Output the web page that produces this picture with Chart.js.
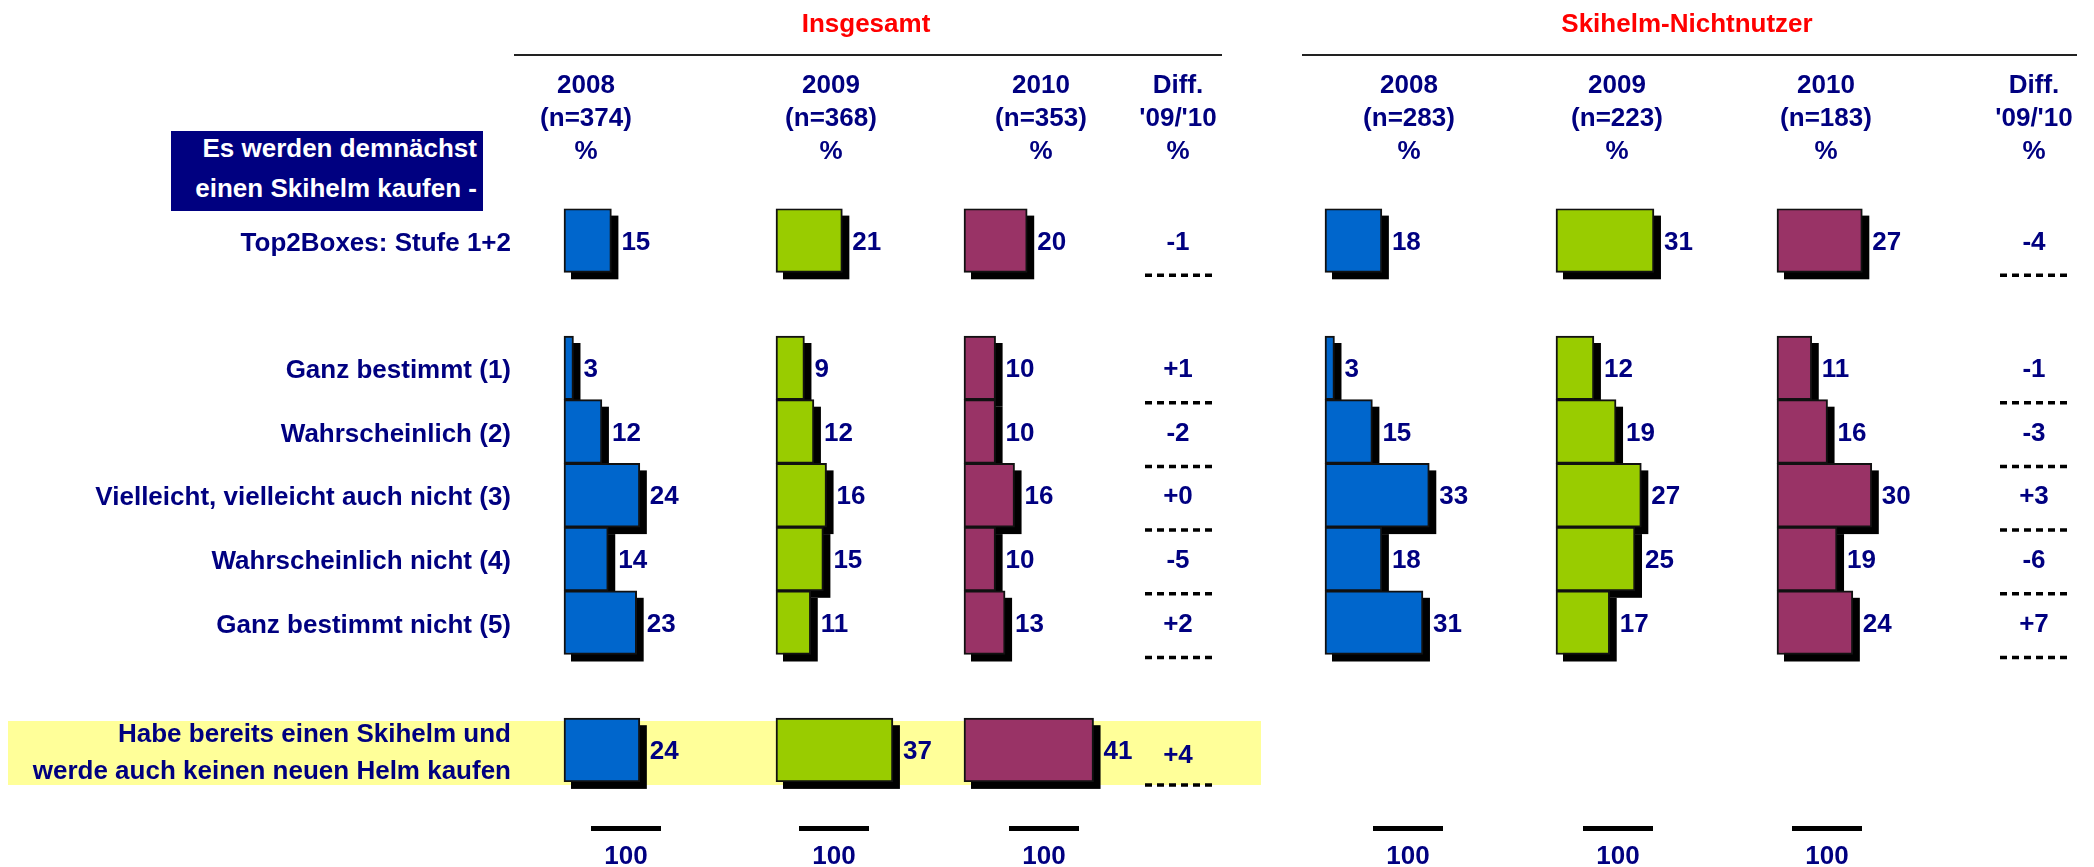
<!DOCTYPE html>
<html><head><meta charset="utf-8">
<script src="https://cdn.jsdelivr.net/npm/chart.js@4/dist/chart.umd.min.js"></script>
<style>
html,body{margin:0;padding:0;background:#fff;}
#wrap{position:relative;width:2094px;height:867px;overflow:hidden;font-family:'Liberation Sans',Arial,sans-serif;font-weight:bold;}
.t{position:absolute;transform:translate(-50%,-50%);white-space:nowrap;font-size:26px;line-height:1;color:#000080;}
canvas{position:absolute;left:0;top:0;}
</style></head><body>
<div id="wrap">
  <div id="band" style="position:absolute;left:8px;top:721px;width:1253px;height:64px;background:#FFFF99"></div>
  <canvas id="c" width="2094" height="867"></canvas>
</div>
<script>
// ---------- data ----------
const categories = ['Top2Boxes: Stufe 1+2', '', 'Ganz bestimmt (1)', 'Wahrscheinlich (2)',
  'Vielleicht, vielleicht auch nicht (3)', 'Wahrscheinlich nicht (4)', 'Ganz bestimmt nicht (5)', '',
  ['Habe bereits einen Skihelm und', 'werde auch keinen neuen Helm kaufen']];
const groupTitles = ['Insgesamt', 'Skihelm-Nichtnutzer'];
const years = ['2008', '2009', '2010'];
const nInsgesamt = [374, 368, 353];
const nNichtnutzer = [283, 223, 183];
const diffHeader = ['Diff.', "'09/'10", '%'];
const questionLines = ['Es werden demnächst', 'einen Skihelm kaufen -'];
const ins2008 = [15, null, 3, 12, 24, 14, 23, null, 24];
const ins2009 = [21, null, 9, 12, 16, 15, 11, null, 37];
const ins2010 = [20, null, 10, 10, 16, 10, 13, null, 41];
const nn2008 = [18, null, 3, 15, 33, 18, 31, null, null];
const nn2009 = [31, null, 12, 19, 27, 25, 17, null, null];
const nn2010 = [27, null, 11, 16, 30, 19, 24, null, null];
const diffIns = ['-1', null, '+1', '-2', '+0', '-5', '+2', null, '+4'];
const diffNn = ['-4', null, '-1', '-3', '+3', '-6', '+7', null, null];
const totals = [100, 100, 100, 100, 100, 100];

// ---------- layout ----------
const FONT = "bold 26px 'Liberation Sans', Arial, sans-serif";
const NAVY = '#000080';
const COLORS = ['#0066CC', '#99CC00', '#993366'];
const baseX = [564, 776, 964, 1325, 1556, 1777];
const colCenter = [586, 831, 1041, 1409, 1617, 1826];
const diffCenter = [1178, 2034];
const dotSpan = [[1145, 1213], [2000, 2070]];
const totalCenter = [626, 834, 1044, 1408, 1618, 1827];
const PX = 3.16, AREA_L = 520, AREA_R = 2094;

const wrap = document.getElementById('wrap');
function txt(s, x, y, color, extra) {
  const d = document.createElement('div');
  d.className = 't'; d.textContent = s;
  d.style.left = x + 'px'; d.style.top = y + 'px';
  if (color) d.style.color = color;
  if (extra) Object.assign(d.style, extra);
  wrap.appendChild(d);
  return d;
}
function box(x, y, w, h, bg) {
  const d = document.createElement('div');
  d.style.position = 'absolute';
  d.style.left = x + 'px'; d.style.top = y + 'px';
  d.style.width = w + 'px'; d.style.height = h + 'px';
  d.style.background = bg;
  wrap.appendChild(d);
  return d;
}
// titles and rules
txt(groupTitles[0], 866, 23, '#FF0000');
txt(groupTitles[1], 1687, 23, '#FF0000');
box(514, 54, 708, 2, '#222');
box(1302, 54, 775, 2, '#222');
// column headers
const headY = [84, 117, 150];
years.forEach((y, i) => {
  [[colCenter[i], nInsgesamt[i]], [colCenter[i + 3], nNichtnutzer[i]]].forEach(([cx, n]) => {
    txt(y, cx, headY[0]);
    txt('(n=' + n + ')', cx, headY[1]);
    txt('%', cx, headY[2]);
  });
});
diffCenter.forEach(cx => diffHeader.forEach((s, k) => txt(s, cx, headY[k])));
// question box
box(171, 131, 312, 80, '#000080');
questionLines.forEach((s, k) => {
  txt(s, 477, 148 + k * 40, '#FFFFFF', { transform: 'translate(-100%,-50%)' });
});
// totals
totals.forEach((v, i) => {
  box(totalCenter[i] - 35, 826, 70, 5, '#000');
  txt(String(v), totalCenter[i], 855);
});

// ---------- chart ----------
const series = [ins2008, ins2009, ins2010, nn2008, nn2009, nn2010];
const scales = {
  y: {
    type: 'category', position: 'left',
    grid: { display: false, drawTicks: false }, border: { display: false },
    ticks: { color: NAVY, font: { family: "'Liberation Sans', Arial, sans-serif", size: 26, weight: 'bold', lineHeight: 1.42 },
      padding: 9, autoSkip: false, labelOffset: 3 },
    afterFit: s => { s.width = AREA_L; }
  }
};
series.forEach((d, i) => {
  scales['x' + i] = { type: 'linear', display: false, bounds: 'data',
    min: -(baseX[i] - AREA_L) / PX, max: (AREA_R - baseX[i]) / PX };
});
const datasets = series.map((d, i) => ({
  data: d, xAxisID: 'x' + i, yAxisID: 'y',
  backgroundColor: COLORS[i % 3], borderColor: '#111', borderWidth: 2, borderSkipped: false,
  barPercentage: 1, categoryPercentage: 1, grouped: false
}));

const shadowPlugin = {
  id: 'shadow',
  beforeDatasetsDraw(chart) {
    const ctx = chart.ctx; ctx.save(); ctx.fillStyle = '#000';
    chart.data.datasets.forEach((ds, i) => {
      chart.getDatasetMeta(i).data.forEach((el, j) => {
        if (ds.data[j] == null) return;
        const p = el.getProps(['x', 'y', 'base', 'height'], true);
        const l = Math.min(p.x, p.base), w = Math.abs(p.x - p.base);
        ctx.fillRect(l + 7, p.y - p.height / 2 + 7, w, p.height);
      });
    });
    ctx.restore();
  }
};
const labelPlugin = {
  id: 'vlabels',
  afterDatasetsDraw(chart) {
    const ctx = chart.ctx; ctx.save();
    ctx.font = FONT; ctx.fillStyle = NAVY; ctx.textAlign = 'left'; ctx.textBaseline = 'middle';
    chart.data.datasets.forEach((ds, i) => {
      chart.getDatasetMeta(i).data.forEach((el, j) => {
        if (ds.data[j] == null) return;
        const p = el.getProps(['x', 'y'], true);
        ctx.fillText(String(ds.data[j]), p.x + 10, p.y + 2);
      });
    });
    // diff column
    const ys = chart.scales.y;
    const band = ys.getPixelForValue(1) - ys.getPixelForValue(0);
    ctx.textAlign = 'center';
    [diffIns, diffNn].forEach((arr, g) => {
      arr.forEach((v, j) => {
        if (v == null) return;
        const y = ys.getPixelForValue(j);
        ctx.fillStyle = NAVY;
        ctx.fillText(v, diffCenter[g], y + (j === 8 ? 6 : 2));
        ctx.beginPath();
        ctx.setLineDash([7, 5]); ctx.lineWidth = 3.5; ctx.strokeStyle = '#000';
        ctx.moveTo(dotSpan[g][0], y + band / 2 + 3); ctx.lineTo(dotSpan[g][1], y + band / 2 + 3);
        ctx.stroke();
      });
    });
    ctx.restore();
  }
};

new Chart(document.getElementById('c'), {
  type: 'bar',
  data: { labels: categories, datasets },
  options: {
    indexAxis: 'y', responsive: false, animation: false, devicePixelRatio: 1,
    layout: { padding: { top: 208.6, bottom: 85.1, left: 0, right: 0 } },
    plugins: { legend: { display: false }, tooltip: { enabled: false } },
    scales
  },
  plugins: [shadowPlugin, labelPlugin]
});
</script>
</body></html>
